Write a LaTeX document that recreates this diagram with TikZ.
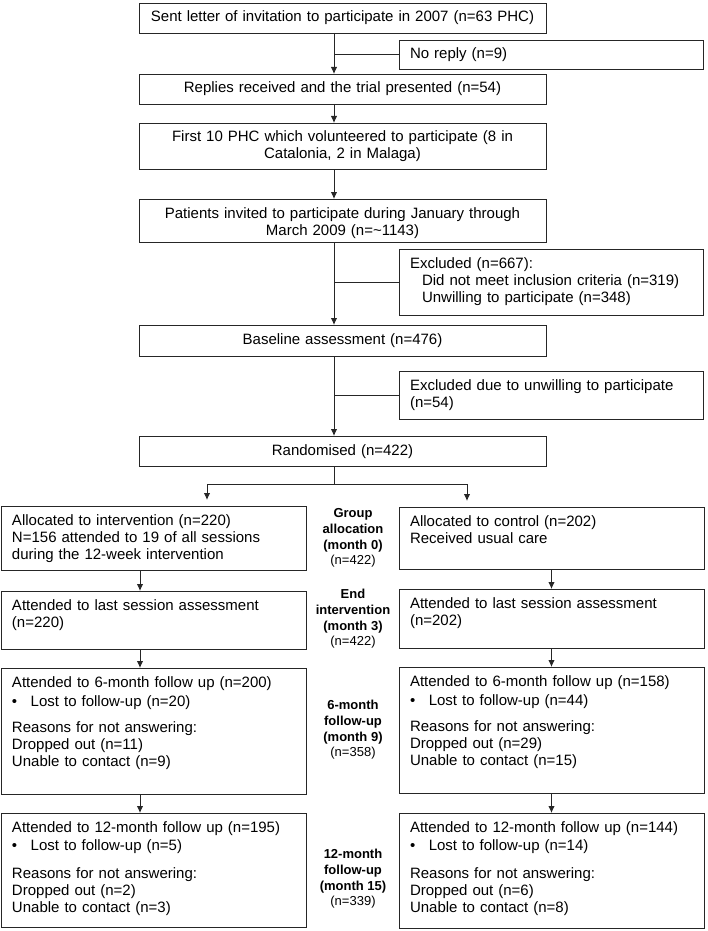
\documentclass[tikz,border=0pt]{standalone}
\usepackage{fontspec}
\setmainfont{Liberation Sans}
\usetikzlibrary{arrows.meta}

\begin{document}
\begin{tikzpicture}[x=1pt,y=-1pt,
  ln/.style={line width=0.9pt, draw=black!85},
  arr/.style={ln, -{Latex[length=7pt,width=6.5pt]}},
  bx/.style={ln, anchor=north west, outer sep=0pt, inner xsep=11pt, inner ysep=8pt,
    text height=11pt, font=\fontsize{15}{17}\selectfont},
  cbx/.style={bx, text width=385pt, align=center},
  sbx/.style={bx, text width=282pt, align=left},
  gbx/.style={bx, text width=283pt, align=left},
  lbl/.style={align=center, inner sep=0pt, font=\fontsize{13}{15.7}\selectfont}]

  \useasboundingbox (0,0) rectangle (707,931);

  % Main column
  \node[cbx, text depth=3pt]  (sent) at (139,3)   {Sent letter of invitation to participate in 2007 (n=63 PHC)};
  \node[cbx, text depth=3pt]  (repl) at (139,74)  {Replies received and the trial presented (n=54)};
  \node[cbx, text depth=19pt] (frst) at (139,123) {First 10 PHC which volunteered to participate (8 in\\Catalonia, 2 in Malaga)};
  \node[cbx, text depth=16pt] (pinv) at (139,199) {Patients invited to participate during January through\\March 2009 (n=\textasciitilde1143)};
  \node[cbx, text depth=4pt]  (base) at (139,325) {Baseline assessment (n=476)};
  \node[cbx, text depth=3pt]  (rand) at (139,436) {Randomised (n=422)};

  % Side boxes
  \node[sbx, text depth=2pt]  (nrep) at (399,40)  {No reply (n=9)};
  \node[sbx, text depth=39pt] (exc1) at (399,249) {Excluded (n=667):\\
    \hspace*{12pt}Did not meet inclusion criteria (n=319)\\
    \hspace*{12pt}Unwilling to participate (n=348)};
  \node[sbx, text depth=21pt] (exc2) at (399,371) {Excluded due to unwilling to participate\\(n=54)};

  % Intervention arm
  \node[gbx, text depth=37pt] (alcI) at (1,506) {Allocated to intervention (n=220)\\N=156 attended to 19 of all sessions\\during the 12-week intervention};
  \node[gbx, text depth=31pt] (endI) at (1,591) {Attended to last session assessment\\(n=220)};
  \node[gbx, text depth=99pt] (sixI) at (1,668) {Attended to 6-month follow up (n=200)\\[2pt]
    \textbullet\hspace{13.5pt}Lost to follow-up (n=20)\\[9pt]
    Reasons for not answering:\\Dropped out (n=11)\\Unable to contact (n=9)};
  \node[gbx, text depth=87pt] (twlI) at (1,813) {Attended to 12-month follow up (n=195)\\[1pt]
    \textbullet\hspace{13.5pt}Lost to follow-up (n=5)\\[11pt]
    Reasons for not answering:\\Dropped out (n=2)\\Unable to contact (n=3)};

  % Control arm
  \node[gbx, text depth=35pt] (alcC) at (399,507) {Allocated to control (n=202)\\Received usual care};
  \node[gbx, text depth=32pt] (endC) at (399,589) {Attended to last session assessment\\(n=202)};
  \node[gbx, text depth=99pt] (sixC) at (399,667) {Attended to 6-month follow up (n=158)\\[2pt]
    \textbullet\hspace{13.5pt}Lost to follow-up (n=44)\\[9pt]
    Reasons for not answering:\\Dropped out (n=29)\\Unable to contact (n=15)};
  \node[gbx, text depth=88pt] (twlC) at (399,813) {Attended to 12-month follow up (n=144)\\[1pt]
    \textbullet\hspace{13.5pt}Lost to follow-up (n=14)\\[11pt]
    Reasons for not answering:\\Dropped out (n=6)\\Unable to contact (n=8)};

  % Stage labels
  \node[lbl] (lgrp) at (353,538) {\textbf{Group}\\\textbf{allocation}\\\textbf{(month 0)}\\(n=422)};
  \node[lbl] (lend) at (353,619) {\textbf{End}\\\textbf{intervention}\\\textbf{(month 3)}\\(n=422)};
  \node[lbl] (lsix) at (353,730) {\textbf{6-month}\\\textbf{follow-up}\\\textbf{(month 9)}\\(n=358)};
  \node[lbl] (ltwl) at (353,879) {\textbf{12-month}\\\textbf{follow-up}\\\textbf{(month 15)}\\(n=339)};

  % Trunk and branches
  \coordinate (tr) at (334,0);
  \coordinate (lc) at (140,0);
  \coordinate (sl) at (207,484);
  \coordinate (sr) at (467,484);

  \draw[arr] (sent.south -| tr) -- (repl.north -| tr);
  \draw[ln]  (tr |- nrep.west) -- (nrep.west);
  \draw[arr] (repl.south -| tr) -- (frst.north -| tr);
  \draw[arr] (frst.south -| tr) -- (pinv.north -| tr);
  \draw[arr] (pinv.south -| tr) -- (base.north -| tr);
  \draw[ln]  (tr |- exc1.west) -- (exc1.west);
  \draw[arr] (base.south -| tr) -- (rand.north -| tr);
  \draw[ln]  (tr |- exc2.west) -- (exc2.west);

  % Split
  \draw[ln] (rand.south -| tr) -- (tr |- sl);
  \draw[ln] (sl) -- (sr);
  \draw[arr, shorten >=6pt] (sl) -- (sl |- alcI.north);
  \draw[arr, shorten >=6pt] (sr) -- (sr |- alcC.north);

  % Arms
  \draw[arr] (alcI.south -| lc) -- (endI.north -| lc);
  \draw[arr] (endI.south -| lc) -- (sixI.north -| lc);
  \draw[arr] (sixI.south -| lc) -- (twlI.north -| lc);
  \draw[arr] (alcC.south) -- (endC.north);
  \draw[arr] (endC.south) -- (sixC.north);
  \draw[arr] (sixC.south) -- (twlC.north);

\end{tikzpicture}
\end{document}
